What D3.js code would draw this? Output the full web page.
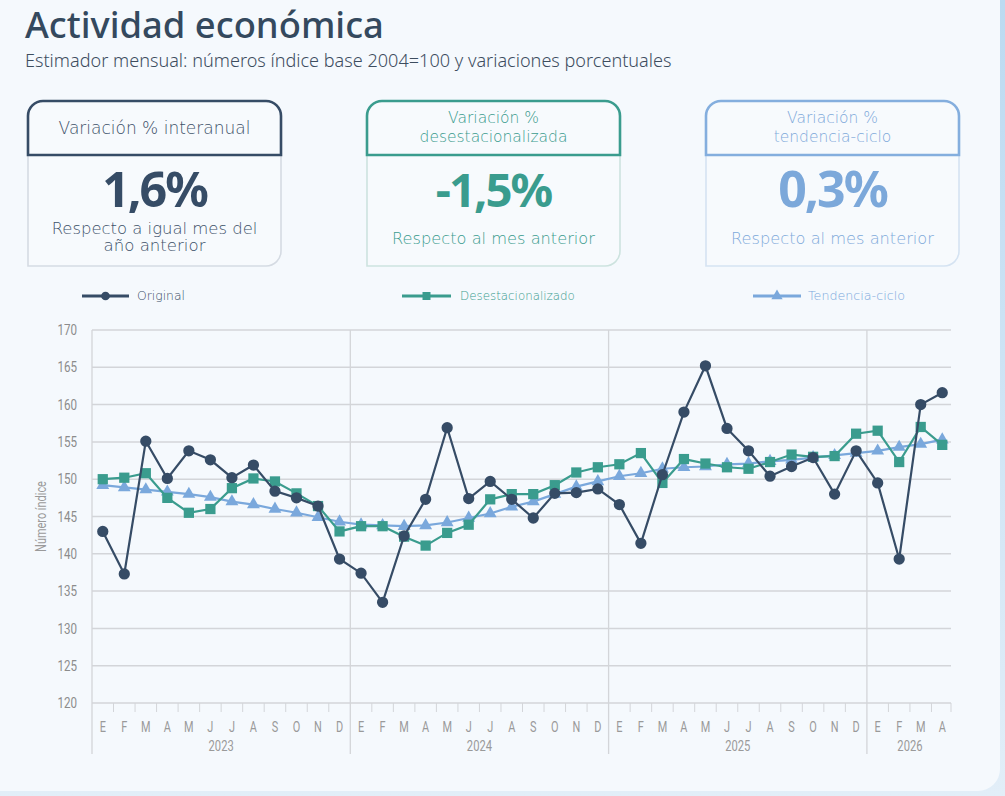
<!DOCTYPE html>
<html>
<head>
<meta charset="utf-8">
<script src="https://cdn.jsdelivr.net/npm/d3@7"></script>
<style>
  html, body { margin: 0; padding: 0; background: #d3e6f6; }
  svg { display: block; }
</style>
</head>
<body>
<svg id="chart" width="1005" height="796"></svg>
<script>
// ---------- DATA ----------
const monthLabels = ["E","F","M","A","M","J","J","A","S","O","N","D"];
const years = [2023, 2024, 2025, 2026];
const monthsPerYear = [12, 12, 12, 4];
const yTicks = [120,125,130,135,140,145,150,155,160,165,170];

const original = [143.0,137.3,155.1,150.1,153.8,152.6,150.2,151.9,148.4,147.5,146.4,139.3,
                  137.4,133.5,142.4,147.3,156.9,147.4,149.7,147.3,144.8,148.1,148.2,148.7,
                  146.6,141.4,150.6,159.0,165.2,156.8,153.8,150.4,151.7,152.9,148.0,153.8,
                  149.5,139.3,160.0,161.6];
const desestacionalizado = [150.0,150.2,150.8,147.5,145.5,146.0,148.8,150.1,149.7,148.1,146.4,143.0,
                  143.7,143.7,142.3,141.1,142.8,143.9,147.3,148.0,148.0,149.2,150.9,151.6,
                  152.0,153.5,149.5,152.7,152.1,151.6,151.4,152.3,153.3,153.0,153.1,156.1,
                  156.5,152.3,157.0,154.6];
const tendencia = [149.2,148.9,148.6,148.3,148.0,147.6,147.0,146.6,146.0,145.5,144.9,144.3,
                  143.9,143.8,143.7,143.8,144.2,144.8,145.4,146.3,147.0,148.0,149.0,149.7,
                  150.4,150.8,151.4,151.6,151.7,152.0,152.1,152.4,152.6,152.9,153.2,153.5,
                  153.8,154.3,154.7,155.3];

const seriesNames = ["Original", "Desestacionalizado", "Tendencia-ciclo"];
const cardTitles = [["Variación % interanual"], ["Variación %", "desestacionalizada"], ["Variación %", "tendencia-ciclo"]];
const cardValues = ["1,6%", "-1,5%", "0,3%"];
const cardNotes = [["Respecto a igual mes del", "año anterior"], ["Respecto al mes anterior"], ["Respecto al mes anterior"]];

const titleText = "Actividad económica";
const subtitleText = "Estimador mensual: números índice base 2004=100 y variaciones porcentuales";
const yAxisTitle = "Número índice";

// ---------- STYLE ----------
const C = { dark: "#364c66", teal: "#3a9c8e", blue: "#7aa8dc" };
const uiFont = "'Noto Sans', 'Open Sans', sans-serif";
const cardFont = "'DejaVu Sans', 'Noto Sans', sans-serif";
const axisFont = "'Roboto', 'Liberation Sans', sans-serif";

const svg = d3.select("#chart");

const defs = svg.append("defs");
const grad = defs.append("linearGradient").attr("id","bg").attr("x1","0").attr("y1","0").attr("x2","0").attr("y2","1");
grad.append("stop").attr("offset","0").attr("stop-color","#bcdaf1");
grad.append("stop").attr("offset","1").attr("stop-color","#e2eef8");
svg.append("rect").attr("width",1005).attr("height",796).attr("fill","url(#bg)");
svg.append("rect").attr("x",-30).attr("y",-30).attr("width",1030).attr("height",821).attr("rx",22).attr("fill","#f5f9fd");

function fitWidth(sel, w, maxFs) {
  sel.each(function() {
    const cur = this.getComputedTextLength();
    const fs = parseFloat(d3.select(this).attr("font-size"));
    if (cur > 0) {
      let nf = fs * w / cur;
      if (maxFs && nf > maxFs) nf = maxFs;
      d3.select(this).attr("font-size", nf);
    }
  });
}
function condense(sel, k) {
  sel.each(function() {
    const cur = this.getComputedTextLength();
    if (cur > 0) d3.select(this).attr("textLength", cur * k).attr("lengthAdjust", "spacingAndGlyphs");
  });
}

// Title
svg.append("text").attr("x",25).attr("y",38).attr("font-family",uiFont).attr("font-weight",500)
  .attr("font-size",30).attr("fill","#34495e").text(titleText).call(fitWidth, 359);
svg.append("text").attr("x",25).attr("y",67).attr("font-family",uiFont).attr("font-weight",300)
  .attr("font-size",15).attr("fill","#3d4d5f").text(subtitleText).call(fitWidth, 647);

// ---------- CARDS ----------
const cardX = [28, 367, 706];
const cardW = 253;
const cardTop = 101, headBottom = 155, cardBottom = 266, rad = 15;
const cardColors = [
  { main: C.dark, text: "#3d5169", light: "#d5dbe3", value: C.dark },
  { main: C.teal, text: "#3a9b8d", light: "#cde3df", value: C.teal },
  { main: "#84aede", text: "#7ea9da", light: "#d5e3f2", value: "#7ca8da" }
];
const titleW = [[206], [105, 172], [105, 140]];
const valueW = [105, 116, 118];
const noteW = [[206, 102], [203], [203]];
cardX.forEach((x, i) => {
  const g = svg.append("g");
  const w = cardW, cc = cardColors[i];
  g.append("path")
    .attr("d", `M${x},${headBottom} L${x},${cardBottom} L${x+w-rad},${cardBottom} A${rad},${rad} 0 0 0 ${x+w},${cardBottom-rad} L${x+w},${headBottom}`)
    .attr("fill","#f7fafd").attr("stroke",cc.light).attr("stroke-width",1.6);
  g.append("path")
    .attr("d", `M${x},${headBottom} L${x},${cardTop+rad} A${rad},${rad} 0 0 1 ${x+rad},${cardTop} L${x+w-rad},${cardTop} A${rad},${rad} 0 0 1 ${x+w},${cardTop+rad} L${x+w},${headBottom} Z`)
    .attr("fill","#f7fafd").attr("stroke",cc.main).attr("stroke-width",2.6);
  const cx = x + w/2;
  const lines = cardTitles[i];
  const ys = lines.length === 1 ? [134] : [123, 142];
  lines.forEach((t, k) => {
    g.append("text").attr("x",cx).attr("y",ys[k]).attr("text-anchor","middle")
      .attr("font-family",cardFont).attr("font-weight",300).attr("font-size",15).attr("fill",cc.text).text(t)
      .call(fitWidth, titleW[i][k], lines.length === 1 ? 17 : 15.5);
  });
  g.append("text").attr("x",cx).attr("y",207).attr("text-anchor","middle")
    .attr("font-family",uiFont).attr("font-weight",700).attr("font-size",50)
    .attr("letter-spacing",-2).attr("fill",cc.value).text(cardValues[i])
    .call(fitWidth, valueW[i], 50);
  const notes = cardNotes[i];
  const ny = notes.length === 1 ? [244] : [234, 251];
  notes.forEach((t, k) => {
    g.append("text").attr("x",cx).attr("y",ny[k]).attr("text-anchor","middle")
      .attr("font-family",cardFont).attr("font-weight",300).attr("font-size",14).attr("fill",cc.text).text(t)
      .call(fitWidth, noteW[i][k]);
  });
});

// ---------- CHART ----------
const plot = { left: 92, right: 953, top: 330, bottom: 703 };
const periods = [];
years.forEach((y, yi) => { for (let m = 0; m < monthsPerYear[yi]; m++) periods.push({ year: y, m, label: monthLabels[m] }); });
const x = d3.scaleBand().domain(d3.range(periods.length)).range([plot.left, plot.right]).padding(0);
const y = d3.scaleLinear().domain([120, 170]).range([plot.bottom, plot.top]);
const cxp = i => x(i) + x.bandwidth()/2;

const grid = svg.append("g");
grid.selectAll("line.h").data(yTicks).join("line")
  .attr("x1", plot.left).attr("x2", plot.right - 2)
  .attr("y1", d => y(d)).attr("y2", d => y(d))
  .attr("stroke", "#d3d5d9").attr("stroke-width", 1.5);

const yAxis = svg.append("g").attr("transform", `translate(${plot.left},0)`)
  .call(d3.axisLeft(y).tickValues(yTicks).tickSize(0).tickPadding(15).tickFormat(d3.format("d")));
yAxis.select(".domain").remove();
yAxis.selectAll("text").attr("font-family", axisFont).attr("font-size", 14.5).attr("fill", "#8c8c8c")
  .call(condense, 0.8);

svg.append("text").attr("transform", `translate(46,${(y(150)+y(140))/2}) rotate(-90)`)
  .attr("text-anchor","middle").attr("font-family",axisFont).attr("font-size",14).attr("fill","#9a9a9a")
  .text(yAxisTitle).call(condense, 0.78);

const yearStarts = [];
let acc = 0;
years.forEach((yr, yi) => { yearStarts.push({ year: yr, start: acc, n: monthsPerYear[yi] }); acc += monthsPerYear[yi]; });
grid.selectAll("line.v").data(yearStarts).join("line")
  .attr("x1", d => x(d.start)).attr("x2", d => x(d.start))
  .attr("y1", plot.top).attr("y2", 754)
  .attr("stroke", "#d3d5d9").attr("stroke-width", 1.3);

const bx = d3.range(1, periods.length + 1).filter(i => !yearStarts.some(s => s.start === i));
grid.selectAll("line.t").data(bx).join("line")
  .attr("x1", i => i < periods.length ? x(i) : plot.right - 2).attr("x2", i => i < periods.length ? x(i) : plot.right - 2)
  .attr("y1", plot.bottom).attr("y2", plot.bottom + 9)
  .attr("stroke", "#d3d5d9").attr("stroke-width", 1);

svg.append("g").selectAll("text").data(periods).join("text")
  .attr("x", (d, i) => cxp(i)).attr("y", 732).attr("text-anchor","middle")
  .attr("font-family",axisFont).attr("font-size",14).attr("fill","#9a9a9a").text(d => d.label)
  .call(condense, 0.78);
svg.append("g").selectAll("text").data(yearStarts).join("text")
  .attr("x", d => (x(d.start) + (d.start + d.n < periods.length ? x(d.start + d.n) : plot.right)) / 2)
  .attr("y", 751).attr("text-anchor","middle")
  .attr("font-family",axisFont).attr("font-size",14).attr("fill","#9a9a9a").text(d => d.year)
  .call(condense, 0.8);

// series
const line = d3.line().x((d, i) => cxp(i)).y(d => y(d));
const series = [
  { name: seriesNames[2], values: tendencia, color: C.blue, sym: d3.symbolTriangle, size: 72 },
  { name: seriesNames[1], values: desestacionalizado, color: C.teal, sym: d3.symbolSquare, size: 105 },
  { name: seriesNames[0], values: original, color: C.dark, sym: d3.symbolCircle, size: 100 }
];
series.forEach(s => {
  const g = svg.append("g");
  g.append("path").attr("d", line(s.values)).attr("fill","none").attr("stroke", s.color).attr("stroke-width", 2.2);
  g.selectAll("path.m").data(s.values).join("path")
    .attr("transform", (d, i) => `translate(${cxp(i)},${y(d)})`)
    .attr("d", d3.symbol().type(s.sym).size(s.size)).attr("fill", s.color);
});

// legend
const legend = [
  { name: seriesNames[0], color: C.dark, sym: d3.symbolCircle, size: 60, x0: 82, x1: 129, tx: 137, tw: 48 },
  { name: seriesNames[1], color: C.teal, sym: d3.symbolSquare, size: 64, x0: 402, x1: 451, tx: 460, tw: 115 },
  { name: seriesNames[2], color: C.blue, sym: d3.symbolTriangle, size: 55, x0: 753, x1: 801, tx: 808, tw: 97 }
];
const lg = svg.append("g");
legend.forEach(l => {
  lg.append("line").attr("x1", l.x0).attr("x2", l.x1).attr("y1", 296).attr("y2", 296)
    .attr("stroke", l.color).attr("stroke-width", 3);
  lg.append("path").attr("transform", `translate(${(l.x0+l.x1)/2},296)`)
    .attr("d", d3.symbol().type(l.sym).size(l.size)).attr("fill", l.color);
  lg.append("text").attr("x", l.tx).attr("y", 300).attr("font-family", cardFont).attr("font-weight",300).attr("font-size", 11)
    .attr("fill", l.color).text(l.name).call(fitWidth, l.tw);
});
</script>
</body>
</html>
